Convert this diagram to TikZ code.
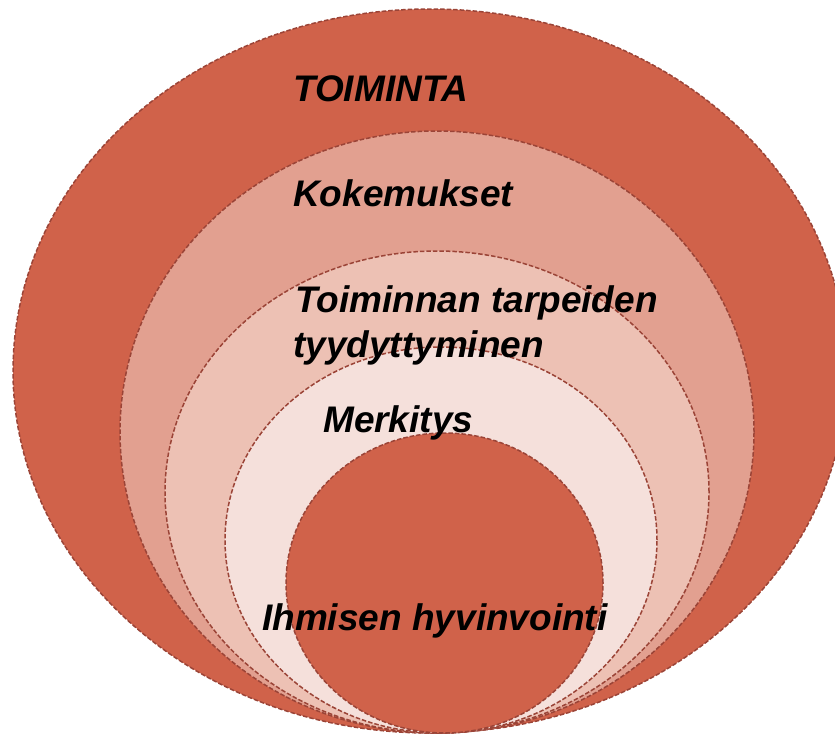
\documentclass[tikz,border=0pt]{standalone}
\usepackage{fontspec}
\setmainfont{Liberation Sans}
\usetikzlibrary{shapes.geometric}
\definecolor{edge}{RGB}{155,68,55}
\definecolor{cA}{RGB}{208,98,74}
\definecolor{cB}{RGB}{226,160,144}
\definecolor{cC}{RGB}{237,193,180}
\definecolor{cD}{RGB}{245,224,219}
\tikzset{
  ring/.style={ellipse, draw=edge, line width=1.5pt, dash pattern=on 4.5pt off 2pt, inner sep=0pt, outer sep=0pt},
  lbl/.style={anchor=base west, inner sep=0pt, text=black, font=\fontsize{37}{44}\selectfont\bfseries\itshape}
}
\begin{document}
\begin{tikzpicture}[x=1pt,y=-1pt]
\useasboundingbox (0,0) rectangle (835,734);
\clip (0,0) rectangle (835,734);
\node[ring, fill=cA, minimum width=834pt, minimum height=724pt] (toiminta) at (430,371) {};
\node[ring, fill=cB, minimum width=634pt, minimum height=602pt] (kokemukset) at (437,432) {};
\node[ring, fill=cC, minimum width=544pt, minimum height=482pt] (tarpeet) at (437,492) {};
\node[ring, fill=cD, minimum width=432pt, minimum height=386pt] (merkitys) at (441,540) {};
\node[ring, fill=cA, minimum width=317pt, minimum height=300pt] (hyvinvointi) at (444.5,583) {};
\node[lbl] (t1) at (293,101) {TOIMINTA};
\node[lbl] (t2) at (293,206) {Kokemukset};
\node[lbl] (t3a) at (295,312) {Toiminnan tarpeiden};
\node[lbl] (t3b) at (293,357) {tyydyttyminen};
\node[lbl] (t4) at (323,432) {Merkitys};
\node[lbl] (t5) at (262,630) {Ihmisen hyvinvointi};
\end{tikzpicture}
\end{document}
